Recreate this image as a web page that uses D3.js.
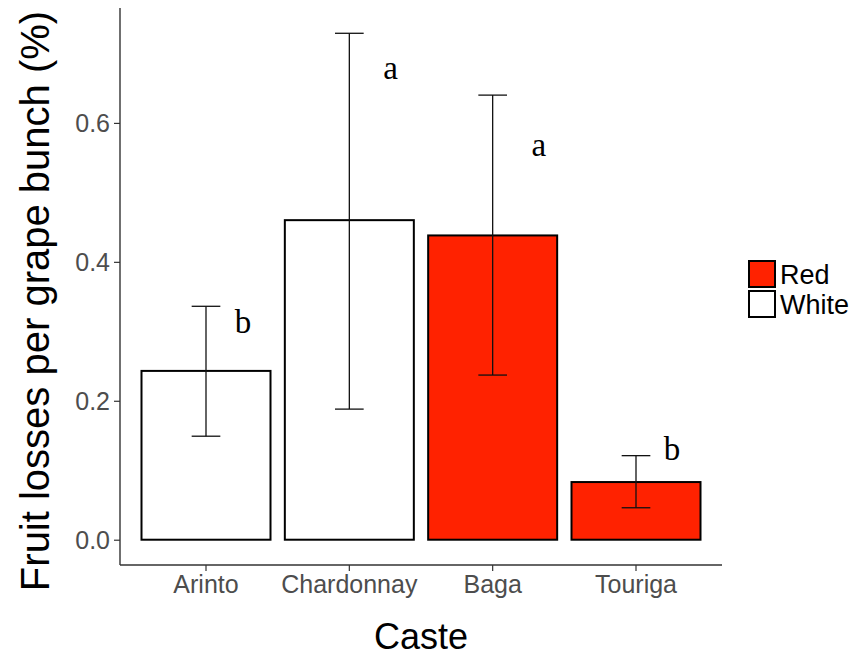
<!DOCTYPE html>
<html>
<head>
<meta charset="utf-8">
<script src="https://cdn.jsdelivr.net/npm/d3@7"></script>
<style>
  html, body { margin: 0; padding: 0; background: #fff; }
  svg { display: block; }
</style>
</head>
<body>
<svg id="chart" width="852" height="658"></svg>
<script>
// Grape varieties and their fruit losses per bunch
const categories = ["Arinto", "Chardonnay", "Baga", "Touriga"];
const colourGroup = ["White", "White", "Red", "Red"];
const means = [0.243, 0.460, 0.438, 0.083];
const lower = [0.149, 0.188, 0.237, 0.046];
const upper = [0.336, 0.729, 0.640, 0.121];
// Significance letters, with their placement (band offset, value of baseline)
const letters = ["b", "a", "a", "b"];
const letterNudge = [0.259, 0.287, 0.322, 0.252];
const letterY = [0.297, 0.663, 0.552, 0.115];
const yTicks = [0.0, 0.2, 0.4, 0.6];
const legendKeys = ["Red", "White"];
const fillColours = { Red: "#FF2200", White: "#FFFFFF" };

const svg = d3.select("#chart");
const panel = { left: 120, right: 722, top: 8, bottom: 565 };
const sans = "'Liberation Sans', Arial, sans-serif";

const x = d3.scaleBand()
  .domain(categories)
  .range([panel.left, panel.right])
  .paddingInner(0)
  .paddingOuter(0.1);

const y = d3.scaleLinear()
  .domain([-0.0364, 0.7654])
  .range([panel.bottom, panel.top]);

const barW = x.bandwidth() * 0.9;
const capW = x.bandwidth() * 0.2;
const cx = c => x(c) + x.bandwidth() / 2;

const data = categories.map((c, i) => ({
  cat: c, group: colourGroup[i], mean: means[i], lo: lower[i], hi: upper[i],
  letter: letters[i], nudge: letterNudge[i], ly: letterY[i]
}));

// Bars
svg.append("g").selectAll("rect")
  .data(data)
  .join("rect")
  .attr("x", d => cx(d.cat) - barW / 2)
  .attr("y", d => y(d.mean))
  .attr("width", barW)
  .attr("height", d => y(0) - y(d.mean))
  .attr("fill", d => fillColours[d.group])
  .attr("stroke", "#000")
  .attr("stroke-width", 2);

// Error bars
const eb = svg.append("g").attr("stroke", "#111").attr("stroke-width", 1.3).attr("fill", "none");
data.forEach(d => {
  const c = cx(d.cat);
  eb.append("line").attr("x1", c).attr("x2", c).attr("y1", y(d.lo)).attr("y2", y(d.hi));
  eb.append("line").attr("x1", c - capW / 2).attr("x2", c + capW / 2).attr("y1", y(d.hi)).attr("y2", y(d.hi));
  eb.append("line").attr("x1", c - capW / 2).attr("x2", c + capW / 2).attr("y1", y(d.lo)).attr("y2", y(d.lo));
});

// Letters
svg.append("g").selectAll("text")
  .data(data)
  .join("text")
  .attr("x", d => cx(d.cat) + d.nudge * x.step())
  .attr("y", d => y(d.ly))
  .attr("text-anchor", "middle")
  .attr("font-family", "'Liberation Serif', 'Times New Roman', serif")
  .attr("font-size", 33)
  .attr("fill", "#000")
  .text(d => d.letter);

// Axes
const yAxis = d3.axisLeft(y).tickValues(yTicks).tickFormat(d3.format(".1f")).tickSize(6).tickPadding(4);
const gy = svg.append("g").attr("transform", `translate(${panel.left},0)`).call(yAxis);
const xAxis = d3.axisBottom(x).tickSize(6).tickPadding(4);
const gx = svg.append("g").attr("transform", `translate(0,${panel.bottom})`).call(xAxis);

[gx, gy].forEach(g => {
  g.select(".domain").remove();
  g.selectAll(".tick line").attr("stroke", "#333").attr("stroke-width", 1.2);
  g.selectAll(".tick text")
    .attr("fill", "#4D4D4D")
    .attr("font-family", sans)
    .attr("font-size", 25);
});
svg.append("line").attr("x1", panel.left).attr("x2", panel.left)
  .attr("y1", panel.top).attr("y2", panel.bottom)
  .attr("stroke", "#333").attr("stroke-width", 1.4);
svg.append("line").attr("x1", panel.left).attr("x2", panel.right)
  .attr("y1", panel.bottom).attr("y2", panel.bottom)
  .attr("stroke", "#333").attr("stroke-width", 1.4);
gy.selectAll(".tick text").attr("dy", "0.36em");
gx.selectAll(".tick text").attr("dy", "0.7em");

// Axis titles
svg.append("text")
  .attr("x", (panel.left + panel.right) / 2)
  .attr("y", 649)
  .attr("text-anchor", "middle")
  .attr("font-family", sans)
  .attr("font-size", 36)
  .attr("fill", "#000")
  .text("Caste");

svg.append("text")
  .attr("transform", "translate(49,301) rotate(-90)")
  .attr("text-anchor", "middle")
  .attr("font-family", sans)
  .attr("font-size", 40)
  .attr("fill", "#000")
  .text("Fruit losses per grape bunch (%)");

// Legend
const legend = svg.append("g").attr("transform", "translate(749,261)");
legendKeys.forEach((k, i) => {
  const g = legend.append("g").attr("transform", `translate(0,${i * 30})`);
  g.append("rect").attr("width", 26).attr("height", 26)
    .attr("fill", fillColours[k]).attr("stroke", "#000").attr("stroke-width", 2);
  g.append("text").attr("x", 31).attr("y", 13).attr("dy", "0.36em")
    .attr("font-family", sans)
    .attr("font-size", 27).attr("fill", "#000")
    .text(k);
});
</script>
</body>
</html>
